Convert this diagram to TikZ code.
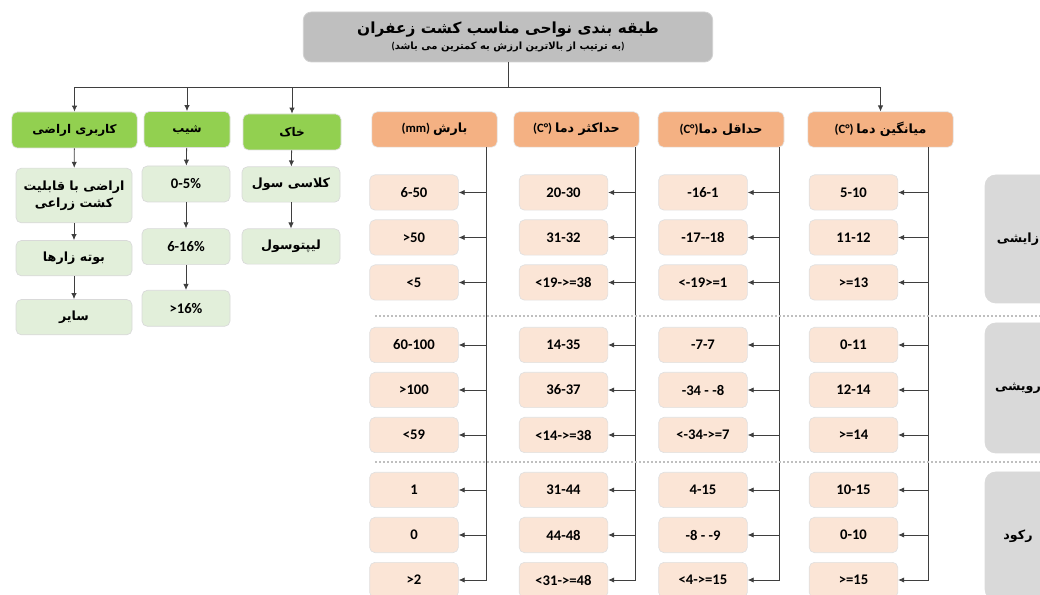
\documentclass[tikz,border=0pt]{standalone}
\usepackage{fontspec}
\setmainfont{Carlito}
\newfontfamily\fafont[Script=Arabic]{DejaVu Sans}
\TeXXeTstate=1
\usepackage{tikz}
\usetikzlibrary{arrows.meta,positioning}
\definecolor{titlegray}{HTML}{BFBFBF}
\definecolor{phasegray}{HTML}{D9D9D9}
\definecolor{leafgreen}{HTML}{92D050}
\definecolor{palegreen}{HTML}{E2EFDA}
\definecolor{headorange}{HTML}{F4B183}
\definecolor{palepeach}{HTML}{FBE5D6}
\definecolor{linkgray}{HTML}{3F3F3F}
\newcommand{\fatext}[1]{{\fafont\beginR #1\endR}}
\tikzset{
  titlebox/.style  ={rounded corners=6pt,draw=black!18,line width=0.6pt,fill=titlegray,
                     inner sep=2pt,align=center,minimum width=307pt,minimum height=37.5pt},
  greenhead/.style ={rounded corners=4pt,draw=black!12,line width=0.5pt,fill=leafgreen,
                     inner sep=2pt,align=center,minimum height=27pt,font=\bfseries\fontsize{9}{11}\selectfont},
  greenitem/.style ={rounded corners=4pt,draw=black!15,line width=0.5pt,fill=palegreen,
                     inner sep=2pt,align=center,minimum height=26.5pt,font=\bfseries\fontsize{9.5}{13}\selectfont},
  slopeitem/.style ={greenitem,minimum width=66pt,minimum height=27pt,font=\bfseries\fontsize{11}{13}\selectfont},
  orangehead/.style={rounded corners=4pt,draw=black!10,line width=0.5pt,fill=headorange,
                     inner sep=2pt,align=center,minimum height=26.5pt,font=\bfseries\fontsize{9.5}{11}\selectfont},
  peachitem/.style ={rounded corners=4pt,draw=black!12,line width=0.5pt,fill=palepeach,
                     inner sep=2pt,align=center,minimum width=66.5pt,minimum height=26.5pt,
                     font=\bfseries\fontsize{11}{13}\selectfont},
  phasebox/.style  ={rounded corners=8pt,draw=black!15,line width=0.5pt,fill=phasegray,
                     inner sep=2pt,minimum width=49.5pt,font=\bfseries\fontsize{9.5}{11}\selectfont},
  flow/.style      ={-{Latex[length=4.5pt,width=4pt]},line width=0.6pt,draw=linkgray},
  sepline/.style   ={draw=black!25,line width=1.2pt,dash pattern=on 1.2pt off 1.8pt}
}

\begin{document}
\begin{tikzpicture}[x=0.75pt,y=-0.75pt,node distance=6.75pt]
  \useasboundingbox (0,0) rectangle (1040,595);

  % title
  \node[titlebox] (title) at (508,37)
    {{\bfseries\fontsize{11.5}{14}\selectfont\fatext{طبقه بندی نواحی مناسب کشت زعفران}}\\[0pt]
     {\bfseries\fontsize{7.5}{9}\selectfont(\fatext{به ترتیب از بالاترین ارزش به کمترین می باشد})}};
  \coordinate (bus) at (0,87);

  % green branch
  \node[greenhead,minimum width=94pt] (landuse) at (74.5,130) {\fatext{کاربری اراضی}};
  \node[greenhead,minimum width=64.5pt] (slope) at (187,129.5) {\fatext{شیب}};
  \node[greenhead,minimum width=73.5pt] (soil) at (292,132) {\fatext{خاک}};

  \node[greenitem,minimum width=87pt,minimum height=41pt] (land1) at (74,195.5)
    {\fatext{اراضی با قابلیت}\\\fatext{کشت زراعی}};
  \node[greenitem,minimum width=87pt,below=12.75pt of land1] (land2) {\fatext{بوته زارها}};
  \node[greenitem,minimum width=87pt,below=17.25pt of land2] (land3) {\fatext{سایر}};

  \node[slopeitem] (slope1) at (186,184) {0-5\%};
  \node[slopeitem,below=19.5pt of slope1] (slope2) {6-16\%};
  \node[slopeitem,below=18.75pt of slope2] (slope3) {>16\%};

  \node[greenitem,minimum width=73.5pt] (soil1) at (291,184.5) {\fatext{کلاسی سول}};
  \node[greenitem,minimum width=73.5pt,below=19.5pt of soil1] (soil2) {\fatext{لیپتوسول}};

  \draw[flow] (title.south) |- (landuse.north |- bus) -- (landuse.north);
  \draw[flow] (title.south) |- (slope.north |- bus) -- (slope.north);
  \draw[flow] (title.south) |- (soil.north |- bus) -- (soil.north);
  \draw[flow] (landuse) -- (land1);
  \draw[flow] (land1) -- (land2);
  \draw[flow] (land2) -- (land3);
  \draw[flow] (slope) -- (slope1);
  \draw[flow] (slope1) -- (slope2);
  \draw[flow] (slope2) -- (slope3);
  \draw[flow] (soil) -- (soil1);
  \draw[flow] (soil1) -- (soil2);

  % orange branch
  \node[orangehead,minimum width=94pt] (rainhd) at (434.5,129.5) {(mm) \fatext{بارش}};
  \node[orangehead,minimum width=94pt] (tmaxhd) at (576.5,129.5) {(C°) \fatext{حداکثر دما}};
  \node[orangehead,minimum width=94.5pt] (tminhd) at (721,129.5) {(C°)\fatext{حداقل دما}};
  \node[orangehead,minimum width=109pt] (tmeanhd) at (880.5,129.5) {(C°) \fatext{میانگین دما}};
  \draw[flow] (title.south) |- (tmeanhd.north |- bus) -- (tmeanhd.north);

  % precipitation
  \node[peachitem] (rain1) at (414,192.5) {6-50};
  \node[peachitem,below=of rain1] (rain2) {>50};
  \node[peachitem,below=of rain2] (rain3) {<5};
  \node[peachitem] (rain4) at (414,345) {60-100};
  \node[peachitem,below=of rain4] (rain5) {>100};
  \node[peachitem,below=of rain5] (rain6) {<59};
  \node[peachitem] (rain7) at (414,490) {1};
  \node[peachitem,below=of rain7] (rain8) {0};
  \node[peachitem,below=of rain8] (rain9) {>2};

  % maximum temperature
  \node[peachitem] (tmax1) at (563.5,192.5) {20-30};
  \node[peachitem,below=of tmax1] (tmax2) {31-32};
  \node[peachitem,below=of tmax2] (tmax3) {<19->=38};
  \node[peachitem] (tmax4) at (563.5,345) {14-35};
  \node[peachitem,below=of tmax4] (tmax5) {36-37};
  \node[peachitem,below=of tmax5] (tmax6) {<14->=38};
  \node[peachitem] (tmax7) at (563.5,490) {31-44};
  \node[peachitem,below=of tmax7] (tmax8) {44-48};
  \node[peachitem,below=of tmax8] (tmax9) {<31->=48};

  % minimum temperature
  \node[peachitem] (tmin1) at (703,192.5) {-16-1};
  \node[peachitem,below=of tmin1] (tmin2) {-17-{}-18};
  \node[peachitem,below=of tmin2] (tmin3) {<-19>=1};
  \node[peachitem] (tmin4) at (703,345) {-7-7};
  \node[peachitem,below=of tmin4] (tmin5) {-34 - -8};
  \node[peachitem,below=of tmin5] (tmin6) {<-34->=7};
  \node[peachitem] (tmin7) at (703,490) {4-15};
  \node[peachitem,below=of tmin7] (tmin8) {-8 - -9};
  \node[peachitem,below=of tmin8] (tmin9) {<4->=15};

  % mean temperature
  \node[peachitem] (tmean1) at (853.5,192.5) {5-10};
  \node[peachitem,below=of tmean1] (tmean2) {11-12};
  \node[peachitem,below=of tmean2] (tmean3) {>=13};
  \node[peachitem] (tmean4) at (853.5,345) {0-11};
  \node[peachitem,below=of tmean4] (tmean5) {12-14};
  \node[peachitem,below=of tmean5] (tmean6) {>=14};
  \node[peachitem] (tmean7) at (853.5,490) {10-15};
  \node[peachitem,below=of tmean7] (tmean8) {0-10};
  \node[peachitem,below=of tmean8] (tmean9) {>=15};

  \coordinate (raintrunk) at ([xshift=-8.25pt]rainhd.south east);
  \coordinate (tmaxtrunk) at ([xshift=-3pt]tmaxhd.south east);
  \coordinate (tmintrunk) at ([xshift=-3.75pt]tminhd.south east);
  \coordinate (tmeantrunk) at ([xshift=-18.75pt]tmeanhd.south east);
  \foreach \i in {1,...,9} \draw[flow] (raintrunk) |- (rain\i.east);
  \foreach \i in {1,...,9} \draw[flow] (tmaxtrunk) |- (tmax\i.east);
  \foreach \i in {1,...,9} \draw[flow] (tmintrunk) |- (tmin\i.east);
  \foreach \i in {1,...,9} \draw[flow] (tmeantrunk) |- (tmean\i.east);

  % phases
  \draw[sepline] (375,316) -- (1040,316);
  \draw[sepline] (375,462) -- (1040,462);
  \node[phasebox,minimum height=96pt] (phase1) at (1018,239) {\fatext{زایشی}};
  \node[phasebox,minimum height=97.5pt] (phase2) at (1018,388) {\fatext{رویشی}};
  \node[phasebox,minimum height=96pt] (phase3) at (1018,536) {\fatext{رکود}};
\end{tikzpicture}
\end{document}
